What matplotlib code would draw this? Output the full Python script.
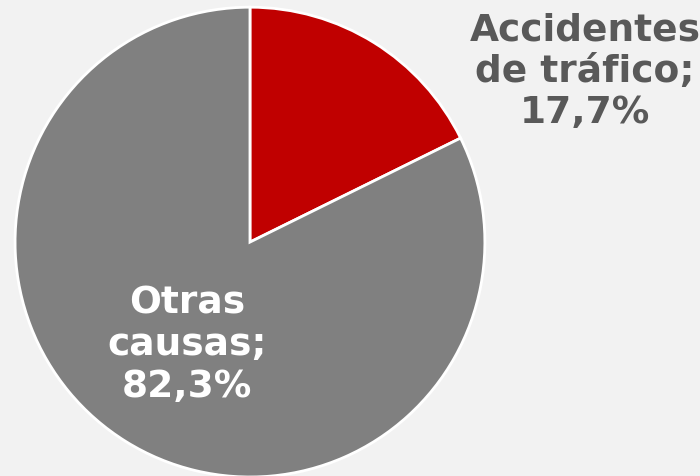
import matplotlib
import matplotlib.pyplot as plt

matplotlib.use("Agg")

labels = ["Accidentes\nde tráfico;\n17,7%", "Otras\ncausas;\n82,3%"]
shares = [17.7, 82.3]
colors = ["#c00000", "#808080"]
text_colors = ["#595959", "white"]
label_pos = [(0.836, 0.849), (0.267, 0.275)]

fig = plt.figure(figsize=(7, 4.76), dpi=100)
fig.patch.set_facecolor("#f2f2f2")
ax = fig.add_axes([0.0214, -0.0021, 0.6714, 0.987])
ax.pie(
    shares,
    colors=colors,
    startangle=90,
    counterclock=False,
    wedgeprops={"edgecolor": "white", "linewidth": 2},
)
ax.set_xlim(-1.0, 1.0)
ax.set_ylim(-1.0, 1.0)
ax.set_aspect("equal")
ax.axis("off")

for text, (x, y), color in zip(labels, label_pos, text_colors):
    fig.text(x, y, text, ha="center", va="center", fontsize=27, fontweight="bold",
             color=color, linespacing=1.2, family="DejaVu Sans")

fig.savefig("out.png", dpi=100, facecolor=fig.get_facecolor())
